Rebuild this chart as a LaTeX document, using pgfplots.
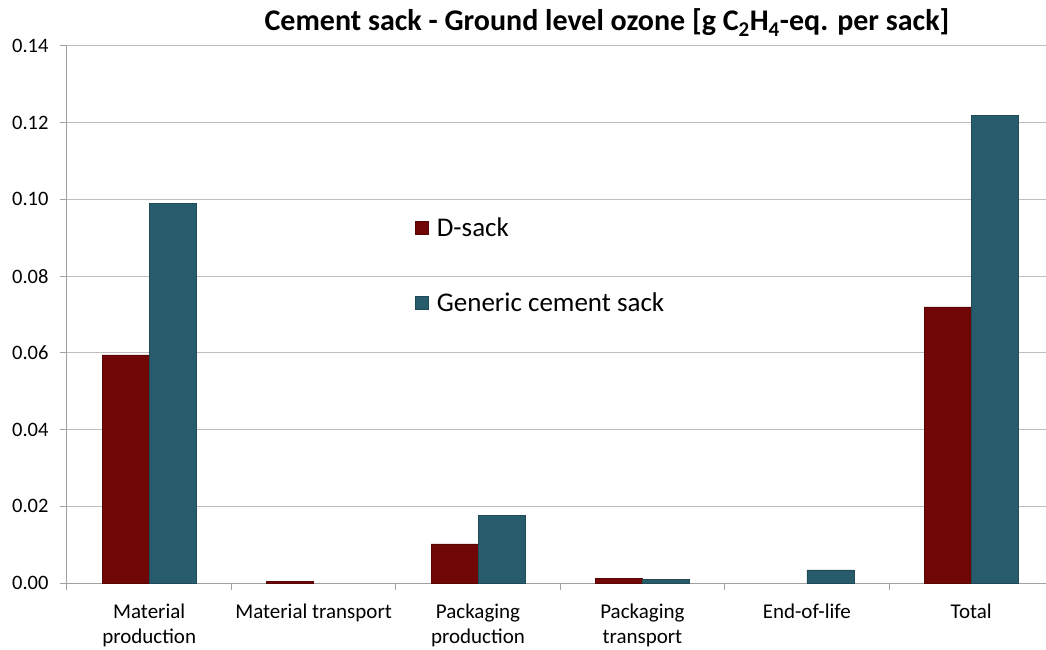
\documentclass[border=0pt]{standalone}
\usepackage{pgfplots}
\pgfplotsset{compat=1.18}
\usepackage{fontspec}
\setmainfont{Carlito}

\definecolor{dsack}{RGB}{112,6,6}
\definecolor{generic}{RGB}{40,92,108}
\definecolor{axgray}{RGB}{160,160,160}
\definecolor{gridgray}{RGB}{190,190,190}

\begin{document}
\begin{tikzpicture}
\useasboundingbox (-67pt,-67pt) rectangle (979pt,583pt);
\begin{axis}[
    at={(0,0)}, anchor=south west,
    scale only axis,
    width=979pt, height=537pt,
    ybar=0pt, bar width=47pt,
    xmin=-0.5, xmax=5.455,
    ymin=0, ymax=0.14,
    axis lines*=left,
    axis line style={axgray, line width=1pt},
    ytick={0,0.02,...,0.14},
    ymajorgrids,
    grid style={gridgray, line width=1pt},
    xtick={0,...,5},
    xticklabels={{Material\\production},{Material transport},{Packaging\\production},{Packaging\\transport},{End-of-life},{Total}},
    minor xtick={-0.5,0.5,...,5.5},
    tick align=outside,
    major x tick style={draw=none},
    tick style={axgray, line width=1pt},
    major tick length=7pt, minor tick length=7pt,
    /pgf/number format/fixed, /pgf/number format/fixed zerofill,
    /pgf/number format/precision=2, /pgf/number format/assume math mode=true,
    yticklabel style={font=\fontsize{20.5}{22}\selectfont, xshift=-8pt},
    xticklabel style={font=\fontsize{21}{25}\selectfont, align=center, anchor=north, yshift=-10pt},
    title={\textbf{Cement sack - Ground level ozone [g C\textsubscript{2}H\textsubscript{4}-eq. per sack]}},
    title style={font=\fontsize{30}{34}\selectfont, at={(0.5516,1)}, anchor=base, yshift=9pt},
    legend style={draw=none, fill=none, at={(0.350,0.688)}, anchor=north west,
        font=\fontsize{27}{31}\selectfont, row sep=51pt, legend cell align=left},
    legend image code/.code={\fill[#1] (2pt,-6pt) rectangle (15pt,7pt); \path[draw=none, fill=none] (0pt,0pt) -- (22pt,0pt);},
]
\addplot[fill=dsack, draw=dsack!80!black] coordinates {(0,0.0595) (1,0.0005) (2,0.0102) (3,0.0013) (5,0.072)};
\addplot[fill=generic, draw=generic!80!black] coordinates {(0,0.099) (2,0.0177) (3,0.001) (4,0.0034) (5,0.122)};
\legend{D-sack, Generic cement sack}
\end{axis}
\end{tikzpicture}
\end{document}
